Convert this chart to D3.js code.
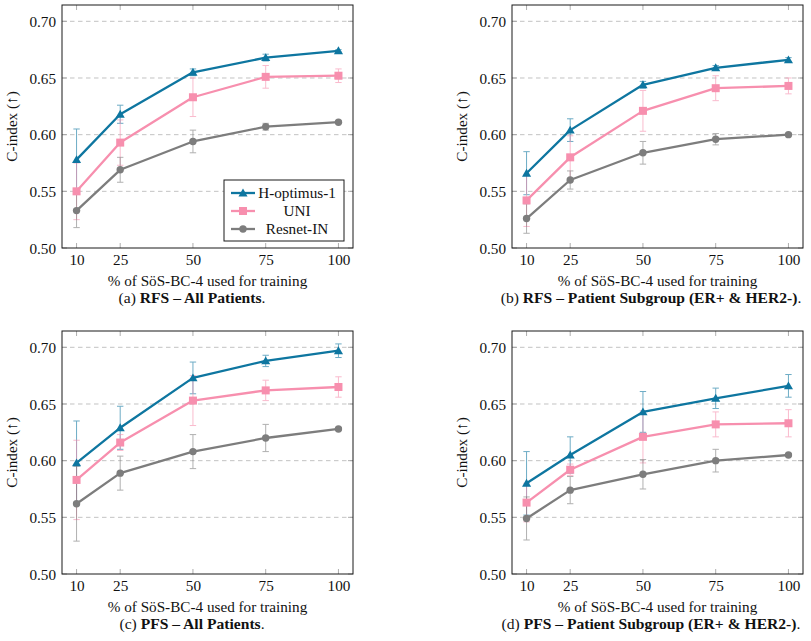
<!DOCTYPE html>
<html><head><meta charset="utf-8">
<script src="https://cdn.jsdelivr.net/npm/d3@7"></script>
<style>body{margin:0;background:#fff}svg{display:block}text{font-family:"Liberation Serif","Times New Roman",serif;fill:#111}</style>
</head><body><svg id="c" width="811" height="641"></svg>
<script>
const xTicks = [10, 25, 50, 75, 100];
const yTicks = [0.50, 0.55, 0.60, 0.65, 0.70];
const seriesNames = ["H-optimus-1", "UNI", "Resnet-IN"];
const seriesColors = ["#0e76a0", "#f78fae", "#7d7d7d"];
const seriesMarkers = ["triangle", "square", "circle"];
const xLabel = "% of SöS-BC-4 used for training";
const yLabel = "C-index (↑)";

// panel (a) RFS – All Patients
const rfsAllMean = [[0.578,0.618,0.655,0.668,0.674],[0.550,0.593,0.633,0.651,0.652],[0.533,0.569,0.594,0.607,0.611]];
const rfsAllErr  = [[0.027,0.008,0.003,0.003,0.001],[0.025,0.020,0.017,0.010,0.006],[0.015,0.011,0.010,0.003,0.001]];
// panel (b) RFS – Patient Subgroup
const rfsSubMean = [[0.566,0.604,0.644,0.659,0.666],[0.542,0.580,0.621,0.641,0.643],[0.526,0.560,0.584,0.596,0.600]];
const rfsSubErr  = [[0.019,0.010,0.003,0.002,0.002],[0.023,0.019,0.018,0.011,0.007],[0.013,0.008,0.010,0.005,0.001]];
// panel (c) PFS – All Patients
const pfsAllMean = [[0.598,0.629,0.673,0.688,0.697],[0.583,0.616,0.653,0.662,0.665],[0.562,0.589,0.608,0.620,0.628]];
const pfsAllErr  = [[0.037,0.019,0.014,0.005,0.006],[0.035,0.007,0.022,0.009,0.009],[0.033,0.015,0.015,0.012,0.001]];
// panel (d) PFS – Patient Subgroup
const pfsSubMean = [[0.580,0.605,0.643,0.655,0.666],[0.563,0.592,0.621,0.632,0.633],[0.549,0.574,0.588,0.600,0.605]];
const pfsSubErr  = [[0.028,0.016,0.018,0.009,0.010],[0.017,0.005,0.023,0.011,0.012],[0.019,0.012,0.013,0.010,0.001]];

const panels = [
  {x:62, y:5, mean:rfsAllMean, err:rfsAllErr, cap:["(a) ","RFS – All Patients","."], capX:192, legend:true},
  {x:512, y:5, mean:rfsSubMean, err:rfsSubErr, cap:["(b) ","RFS – Patient Subgroup (ER+ & HER2-)","."], capX:651, legend:false},
  {x:62, y:331, mean:pfsAllMean, err:pfsAllErr, cap:["(c) ","PFS – All Patients","."], capX:192, legend:false},
  {x:512, y:331, mean:pfsSubMean, err:pfsSubErr, cap:["(d) ","PFS – Patient Subgroup (ER+ & HER2-)","."], capX:651, legend:false}
];
const W = 291, H = 243;
const FS = "15.2px";
const svg = d3.select("#c");

function marker(g, type, color, cx, cy){
  if(type==="triangle"){
    g.append("path").attr("d", d3.symbol(d3.symbolTriangle, 36)()).attr("transform",`translate(${cx},${cy+0.8})`).attr("fill",color);
  } else if(type==="square"){
    g.append("rect").attr("x",-4).attr("y",-4).attr("width",8).attr("height",8).attr("transform",`translate(${cx},${cy})`).attr("fill",color);
  } else {
    g.append("circle").attr("cx",cx).attr("cy",cy).attr("r",3.7).attr("fill",color);
  }
}

panels.forEach(p=>{
  const g = svg.append("g").attr("transform",`translate(${p.x},${p.y})`);
  const x = d3.scaleLinear().domain([5,105]).range([0,W]);
  const y = d3.scaleLinear().domain([0.5,0.7144]).range([H,0]);
  // grid
  g.selectAll(".grid").data(yTicks.slice(1)).enter().append("line")
    .attr("x1",0).attr("x2",W).attr("y1",d=>y(d)).attr("y2",d=>y(d))
    .attr("stroke","#b4b4b4").attr("stroke-width",0.8).attr("stroke-dasharray","4.5,3.5");
  // inward ticks
  xTicks.forEach(t=>{
    g.append("line").attr("x1",x(t)).attr("x2",x(t)).attr("y1",H).attr("y2",H-5).attr("stroke","#999").attr("stroke-width",0.8);
    g.append("line").attr("x1",x(t)).attr("x2",x(t)).attr("y1",0).attr("y2",5).attr("stroke","#999").attr("stroke-width",0.8);
  });
  yTicks.forEach(t=>{
    g.append("line").attr("x1",0).attr("x2",5).attr("y1",y(t)).attr("y2",y(t)).attr("stroke","#999").attr("stroke-width",0.8);
    g.append("line").attr("x1",W).attr("x2",W-5).attr("y1",y(t)).attr("y2",y(t)).attr("stroke","#999").attr("stroke-width",0.8);
  });
  // axes labels via d3 axis
  const xa = g.append("g").attr("transform",`translate(0,${H})`).call(d3.axisBottom(x).tickValues(xTicks).tickSize(0).tickPadding(0).tickFormat(d3.format("d")));
  xa.select(".domain").remove();
  xa.selectAll("text").attr("dy",null).attr("y",16.5).style("font-size",FS).style("font-family","'Liberation Serif',serif").attr("fill","#111");
  const ya = g.append("g").call(d3.axisLeft(y).tickValues(yTicks).tickSize(0).tickPadding(0).tickFormat(d3.format(".2f")));
  ya.select(".domain").remove();
  ya.selectAll("text").attr("x",-6).attr("dy","0.35em").style("font-size",FS).style("font-family","'Liberation Serif',serif").attr("fill","#111");
  // series
  const line = d3.line().x((d,i)=>x(xTicks[i])).y(d=>y(d));
  p.mean.forEach((s,si)=>{
    const c = seriesColors[si];
    const eg = g.append("g").attr("opacity",0.6);
    s.forEach((v,i)=>{
      const e = p.err[si][i], cx = x(xTicks[i]);
      eg.append("line").attr("x1",cx).attr("x2",cx).attr("y1",y(v-e)).attr("y2",y(v+e)).attr("stroke",c).attr("stroke-width",1);
      [v-e,v+e].forEach(b=>eg.append("line").attr("x1",cx-3.2).attr("x2",cx+3.2).attr("y1",y(b)).attr("y2",y(b)).attr("stroke",c).attr("stroke-width",1));
    });
  });
  p.mean.forEach((s,si)=>{
    const c = seriesColors[si];
    g.append("path").datum(s).attr("d",line).attr("fill","none").attr("stroke",c).attr("stroke-width",2.3).attr("stroke-linejoin","round");
    s.forEach((v,i)=>marker(g, seriesMarkers[si], c, x(xTicks[i]), y(v)));
  });
  // frame
  g.append("rect").attr("width",W).attr("height",H).attr("fill","none").attr("stroke","#1a1a1a").attr("stroke-width",1);
  // axis titles
  g.append("text").attr("x",W/2).attr("y",H+37.5).attr("text-anchor","middle").style("font-size",FS).text(xLabel);
  g.append("text").attr("transform",`translate(${-45},${H/2}) rotate(-90)`).attr("text-anchor","middle").style("font-size",FS).text(yLabel);
  // caption
  const cap = svg.append("text").attr("x",p.capX).attr("y",p.y+H+54.5).attr("text-anchor","middle").style("font-size","15.6px");
  cap.append("tspan").text(p.cap[0]);
  cap.append("tspan").attr("font-weight","bold").text(p.cap[1]);
  cap.append("tspan").text(p.cap[2]);
  // legend
  if(p.legend){
    const lg = g.append("g").attr("transform",`translate(${224-p.x},${180-p.y})`);
    lg.append("rect").attr("width",120).attr("height",61).attr("fill","#fff").attr("stroke","#1a1a1a").attr("stroke-width",1);
    seriesNames.forEach((n,i)=>{
      const yy = 13 + i*18;
      lg.append("line").attr("x1",7).attr("x2",31).attr("y1",yy).attr("y2",yy).attr("stroke",seriesColors[i]).attr("stroke-width",2.3);
      marker(lg, seriesMarkers[i], seriesColors[i], 19, yy);
      lg.append("text").attr("x",73).attr("y",yy).attr("dy","0.35em").attr("text-anchor","middle").style("font-size",FS).text(n);
    });
  }
});
</script></body></html>
